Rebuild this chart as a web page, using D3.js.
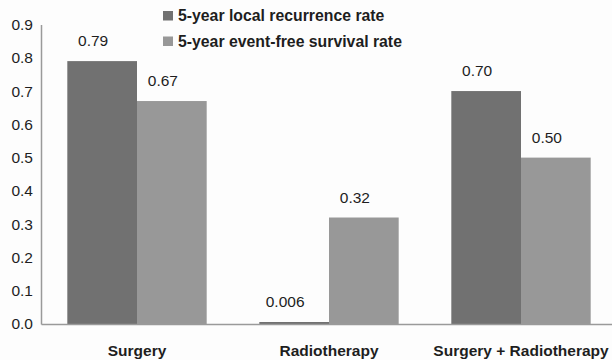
<!DOCTYPE html>
<html>
<head>
<meta charset="utf-8">
<script src="https://cdn.jsdelivr.net/npm/d3@7"></script>
<style>
  html, body { margin: 0; padding: 0; background: #fdfdfd; }
  svg { display: block; font-family: "Liberation Sans", Arial, sans-serif; }
</style>
</head>
<body>
<svg id="chart" width="612" height="360"></svg>
<script>
// Treatment groups along the x axis
const categories = ["Surgery", "Radiotherapy", "Surgery + Radiotherapy"];
// Two outcome series
const seriesNames = ["5-year local recurrence rate", "5-year event-free survival rate"];
const recurrence = [0.79, 0.006, 0.70];
const eventFree = [0.67, 0.32, 0.50];
// Printed value labels
const recurrenceLabels = ["0.79", "0.006", "0.70"];
const eventFreeLabels = ["0.67", "0.32", "0.50"];
// Y axis ticks
const yTicks = [0, 0.1, 0.2, 0.3, 0.4, 0.5, 0.6, 0.7, 0.8, 0.9];

const colors = ["#717171", "#989898"];
const textColor = "#1e1e1e";
const axisColor = "#9a9a9a";

const svg = d3.select("#chart");
const W = 612, H = 360;
const margin = { left: 41, right: -5, top: 24.5, bottom: 36 };
const plotRight = W - margin.right;
const plotBottom = H - margin.bottom;

const x0 = d3.scaleBand()
  .domain(categories)
  .range([margin.left, plotRight])
  .paddingInner(0.274)
  .paddingOuter(0.137);

const x1 = d3.scaleBand()
  .domain(d3.range(seriesNames.length))
  .range([0, x0.bandwidth()]);

const y = d3.scaleLinear()
  .domain([0, 0.9])
  .range([plotBottom, margin.top]);

const rows = categories.map((c, i) => ({
  category: c,
  values: [
    { s: 0, v: recurrence[i], label: recurrenceLabels[i] },
    { s: 1, v: eventFree[i], label: eventFreeLabels[i] }
  ]
}));

// Y axis: line and tick labels, no tick marks
const yAxis = svg.append("g")
  .attr("transform", `translate(${margin.left},0)`)
  .call(d3.axisLeft(y).tickValues(yTicks).tickFormat(d3.format(".1f")).tickSize(0).tickPadding(8));
yAxis.select(".domain").attr("stroke", axisColor).attr("stroke-width", 1.5);
yAxis.selectAll("text")
  .attr("fill", textColor)
  .style("font-size", "15.5px")
  .style("font-family", "'Liberation Sans', Arial, sans-serif");

// Bars
const groups = svg.append("g").selectAll("g")
  .data(rows)
  .join("g")
  .attr("transform", d => `translate(${x0(d.category)},0)`);

groups.selectAll("rect")
  .data(d => d.values)
  .join("rect")
  .attr("x", d => x1(d.s))
  .attr("y", d => y(d.v))
  .attr("width", x1.bandwidth())
  .attr("height", d => y(0) - y(d.v))
  .attr("fill", d => colors[d.s]);

// Value labels above each bar
groups.selectAll("text.val")
  .data(d => d.values)
  .join("text")
  .attr("class", "val")
  .attr("x", d => x1(d.s) + x1.bandwidth() / 2 - 9)
  .attr("y", d => y(d.v) - 15)
  .attr("text-anchor", "middle")
  .attr("fill", textColor)
  .style("font-size", "15.5px")
  .text(d => d.label);

// X axis baseline and category labels
const xAxis = svg.append("g")
  .attr("transform", `translate(0,${plotBottom})`)
  .call(d3.axisBottom(x0).tickSize(0).tickPadding(21));
xAxis.select(".domain").attr("stroke", axisColor).attr("stroke-width", 1.5);
xAxis.selectAll("text")
  .attr("fill", textColor)
  .style("font-size", "15.5px")
  .style("font-weight", "bold")
  .style("font-family", "'Liberation Sans', Arial, sans-serif");

// Legend
const legend = svg.append("g").attr("transform", "translate(163,11)");
const items = legend.selectAll("g")
  .data(seriesNames)
  .join("g")
  .attr("transform", (d, i) => `translate(0,${i * 25.5})`);
items.append("rect")
  .attr("width", 10)
  .attr("height", 9.5)
  .attr("fill", (d, i) => colors[i]);
items.append("text")
  .attr("x", 15)
  .attr("y", 10)
  .attr("fill", textColor)
  .style("font-size", "15.8px")
  .style("font-weight", "bold")
  .text(d => d);
</script>
</body>
</html>
